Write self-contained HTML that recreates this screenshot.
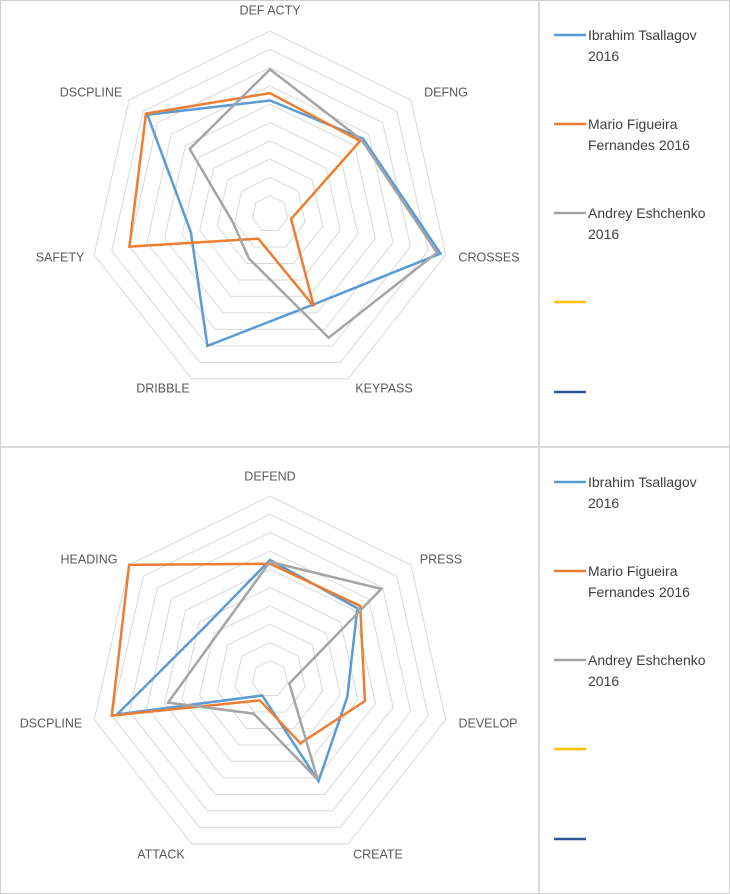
<!DOCTYPE html>
<html><head><meta charset="utf-8"><style>
html,body{margin:0;padding:0;background:#fff}
svg{display:block;font-family:"Liberation Sans",sans-serif}
</style></head><body>
<svg id="c" width="730" height="894" viewBox="0 0 730 894">
<rect x="0.5" y="0.5" width="729" height="893" fill="#fff" stroke="#d0d0d0"/>
<line x1="539" y1="0" x2="539" y2="894" stroke="#d0d0d0" stroke-width="1.5"/>
<line x1="0" y1="447" x2="730" y2="447" stroke="#d0d0d0" stroke-width="1.5"/>
</svg>
<script>
const seriesNames = ["Ibrahim Tsallagov 2016","Mario Figueira Fernandes 2016","Andrey Eshchenko 2016","",""];
const seriesColors = ["#5b9bd5","#ed7d31","#a5a5a5","#ffc000","#2f5597"];
const topAxes = ["DEF ACTY","DEFNG","CROSSES","KEYPASS","DRIBBLE","SAFETY","DSCPLINE"];
const topBlue = [6.2,6.6,9.7,5.5,8.0,4.5,8.7];
const topOrange = [6.6,6.4,1.2,5.6,1.5,8.0,8.8];
const topGray = [7.9,6.5,9.5,7.5,2.7,2.1,5.7];
const botAxes = ["DEFEND","PRESS","DEVELOP","CREATE","ATTACK","DSCPLINE","HEADING"];
const botBlue = [6.5,6.2,4.4,6.2,1.0,8.7,4.6];
const botOrange = [6.3,6.4,5.4,3.9,1.3,9.0,10.0];
const botGray = [6.4,7.9,1.1,6.1,2.1,5.8,3.8];
const maxValue = 10;
const ringCount = 10;

const NS="http://www.w3.org/2000/svg";
const svg=document.getElementById('c');
function mk(tag,attrs,parent){const e=document.createElementNS(NS,tag);for(const k in attrs)e.setAttribute(k,attrs[k]);(parent||svg).appendChild(e);return e;}

const layoutTop={cy:214,labels:[[270,10],[446,92],[489,257],[384,388],[163,388],[60,257],[91,92]]};
const layoutBot={cy:232,labels:[[270,29],[441,112],[488,276],[378,407],[161,407],[51,276],[89,112]]};

function drawRadar(oy,axes,series,prefix,lay){
  const cx=270, cy=oy+lay.cy, R=183, n=axes.length;
  const g=mk('g',{});
  
  
  const ang=i=>i*2*Math.PI/n;
  const pt=(i,v)=>{const r=v/maxValue*R;return [cx+0.985*r*Math.sin(ang(i)),cy-r*Math.cos(ang(i))];};
  for(let k=1;k<=ringCount;k++){
    const pts=axes.map((a,i)=>pt(i,k*maxValue/ringCount).map(v=>v.toFixed(1)).join(',')).join(' ');
    const ring=mk('polygon',{points:pts,fill:'none',stroke:'#d9d9d9','stroke-width':1},g);
    
    
  }
  axes.forEach((a,i)=>{
    const [x,y]=lay.labels[i];
    const t=mk('text',{x:x,y:oy+y+4.5,'font-size':12.5,fill:'#595959','text-anchor':'middle'},g);
    t.textContent=a;
    
    
  });
  series.forEach((vals,si)=>{
    const pts=vals.map((v,i)=>pt(i,v).map(q=>q.toFixed(1)).join(',')).join(' ');
    const p=mk('polygon',{points:pts,fill:'none',stroke:seriesColors[si],'stroke-width':2.5,'stroke-linejoin':'miter'},g);
    
    
  });
  const lg=mk('g',{});
  
  
  const ys=[35,124,213,302,392];
  seriesNames.forEach((nm,si)=>{
    const y=oy+ys[si];
    const e=mk('g',{},lg);
    
    
    mk('line',{x1:554,y1:y,x2:586,y2:y,stroke:seriesColors[si],'stroke-width':2.5},e);
    if(nm){
      const words=nm.split(' ');
      const l2=words.pop(); let l1=words.join(' ');
      let a=l1,b=l2;
      if(si===1){a="Mario Figueira";b="Fernandes 2016";}
      const t1=mk('text',{x:588,y:y+5,'font-size':14,fill:'#404040'},e); t1.textContent=a;
      const t2=mk('text',{x:588,y:y+26,'font-size':14,fill:'#404040'},e); t2.textContent=b;
    }
  });
}
drawRadar(0,topAxes,[topBlue,topOrange,topGray],'top',layoutTop);
drawRadar(447,botAxes,[botBlue,botOrange,botGray],'bottom',layoutBot);
</script>
</body></html>
